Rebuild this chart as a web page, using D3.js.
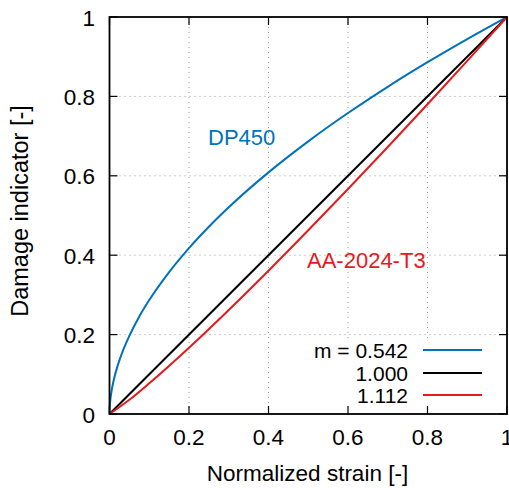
<!DOCTYPE html>
<html><head><meta charset="utf-8">
<script src="https://cdn.jsdelivr.net/npm/d3@7"></script>
<style>body{margin:0;background:#fff;overflow:hidden}svg{display:block}text{font-family:"Liberation Sans",Arial,Helvetica,sans-serif}</style>
</head><body>
<script>
const xTicks = [0, 0.2, 0.4, 0.6, 0.8, 1];
const yTicks = [0, 0.2, 0.4, 0.6, 0.8, 1];
const tickLabels = ["0", "0.2", "0.4", "0.6", "0.8", "1"];
const blueX = [0, 0.0005, 0.002, 0.005, 0.01, 0.02, 0.035, 0.05, 0.075, 0.1, 0.15, 0.2, 0.25, 0.3, 0.4, 0.5, 0.6, 0.7, 0.8, 0.9, 1];
const blueY = [0, 0.0162, 0.0345, 0.0566, 0.0824, 0.120, 0.1625, 0.197, 0.2456, 0.287, 0.3576, 0.418, 0.4717, 0.5207, 0.6086, 0.6868, 0.7581, 0.8242, 0.8861, 0.9445, 1];
const blackX = [0, 1];
const blackY = [0, 1];
const redX = [0, 0.05, 0.1, 0.2, 0.3, 0.4, 0.5, 0.6, 0.7, 0.8, 0.9, 1];
const redY = [0, 0.0357, 0.0773, 0.167, 0.2622, 0.361, 0.4627, 0.5667, 0.6726, 0.7803, 0.8894, 1];
const legendLabels = ["m = 0.542", "1.000", "1.112"];
const colors = ["#0072bd", "#000000", "#e41a1c"];

const W = 509, H = 488;
const m = {left: 109.5, right: 507, top: 17, bottom: 414};
const svg = d3.select("body").append("svg").attr("width", W).attr("height", H);
const x = d3.scaleLinear().domain([0, 1]).range([m.left, m.right]);
const y = d3.scaleLinear().domain([0, 1]).range([m.bottom, m.top]);
const fs = 22.5;

// grid
const grid = svg.append("g").attr("stroke", "#999").attr("stroke-width", 1).attr("stroke-dasharray", "1,4");
xTicks.slice(1, -1).forEach(t => {
  grid.append("line").attr("x1", x(t)).attr("x2", x(t)).attr("y1", m.top).attr("y2", m.bottom);
});
yTicks.slice(1, -1).forEach(t => {
  grid.append("line").attr("y1", y(t)).attr("y2", y(t)).attr("x1", m.left).attr("x2", m.right);
});

// legend background
svg.append("rect").attr("x", 290).attr("y", 338).attr("width", m.right - 290).attr("height", m.bottom - 338).attr("fill", "#fff");

// ticks (inward, mirrored)
const tk = svg.append("g").attr("stroke", "#000").attr("stroke-width", 1.2);
xTicks.forEach(t => {
  tk.append("line").attr("x1", x(t)).attr("x2", x(t)).attr("y1", m.bottom).attr("y2", m.bottom - 8);
  tk.append("line").attr("x1", x(t)).attr("x2", x(t)).attr("y1", m.top).attr("y2", m.top + 8);
});
yTicks.forEach(t => {
  tk.append("line").attr("y1", y(t)).attr("y2", y(t)).attr("x1", m.left).attr("x2", m.left + 8);
  tk.append("line").attr("y1", y(t)).attr("y2", y(t)).attr("x1", m.right).attr("x2", m.right - 8);
});

// curves
const line = d3.line().x(d => x(d[0])).y(d => y(d[1])).curve(d3.curveMonotoneX);
const series = [[blueX, blueY], [blackX, blackY], [redX, redY]];
series.forEach((s, i) => {
  svg.append("path").datum(s[0].map((v, j) => [v, s[1][j]]))
    .attr("d", line).attr("fill", "none").attr("stroke", colors[i]).attr("stroke-width", 2);
});

// frame
svg.append("rect").attr("x", m.left).attr("y", m.top).attr("width", m.right - m.left).attr("height", m.bottom - m.top)
  .attr("fill", "none").attr("stroke", "#000").attr("stroke-width", 1.8);

// tick labels
xTicks.forEach((t, i) => {
  svg.append("text").attr("x", x(t)).attr("y", 445).attr("text-anchor", "middle").attr("font-size", fs).text(tickLabels[i]);
});
yTicks.forEach((t, i) => {
  svg.append("text").attr("x", 95).attr("y", y(t) + 8.5).attr("text-anchor", "end").attr("font-size", fs).text(tickLabels[i]);
});

// axis titles
svg.append("text").attr("x", 307.5).attr("y", 481).attr("text-anchor", "middle").attr("font-size", 22.5).text("Normalized strain [-]");
svg.append("text").attr("transform", `translate(28,211) rotate(-90)`).attr("text-anchor", "middle").attr("font-size", 23.5).text("Damage indicator [-]");

// annotations
svg.append("text").attr("x", 208).attr("y", 145).attr("font-size", 22).attr("fill", colors[0]).text("DP450");
svg.append("text").attr("x", 307).attr("y", 268).attr("font-size", 22).attr("fill", colors[2]).text("AA-2024-T3");

// legend
const ly = [350, 373, 395];
legendLabels.forEach((l, i) => {
  svg.append("text").attr("x", 408).attr("y", ly[i] + 8).attr("text-anchor", "end").attr("font-size", 21).text(l);
  svg.append("line").attr("x1", 423).attr("x2", 482).attr("y1", ly[i]).attr("y2", ly[i]).attr("stroke", colors[i]).attr("stroke-width", 2);
});
</script>
</body></html>
